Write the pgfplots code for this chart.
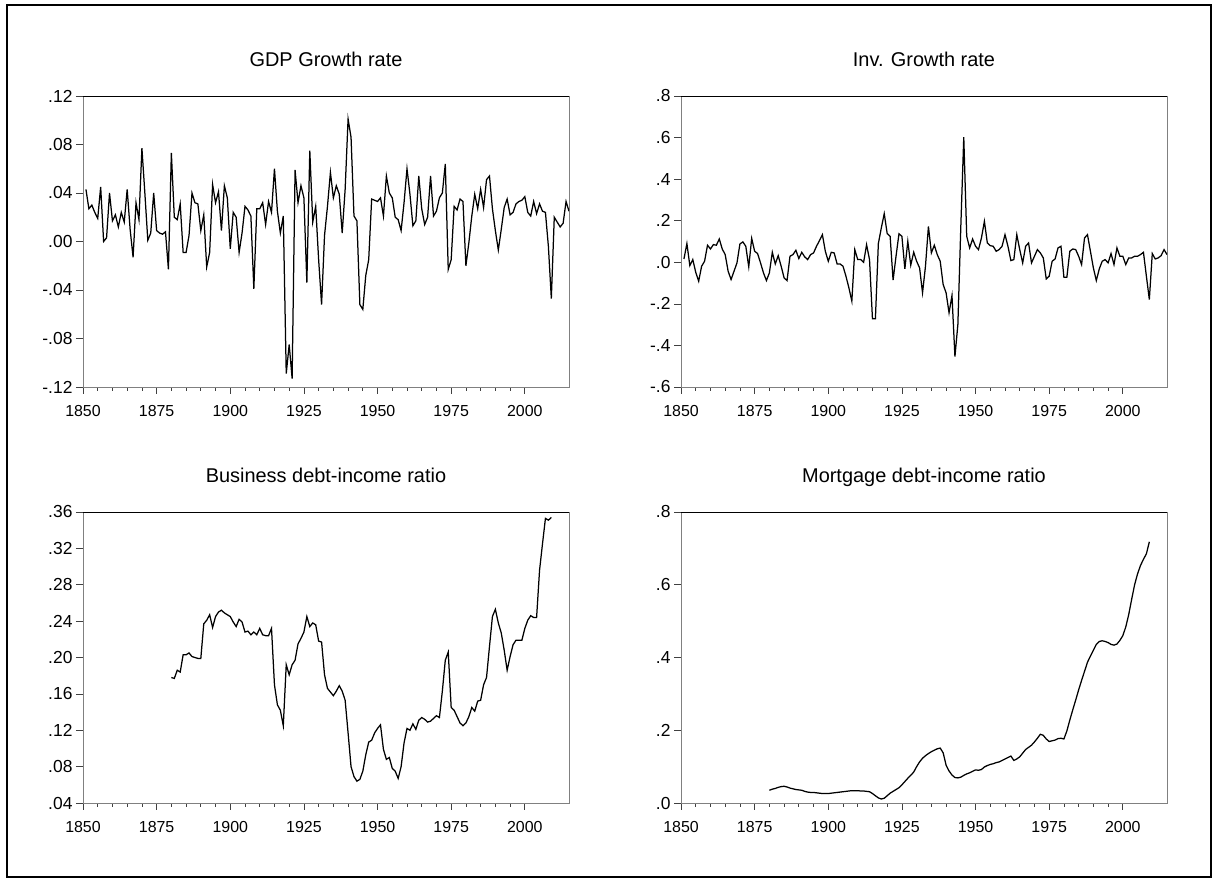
\documentclass[border=0pt]{standalone}
\usepackage{fontspec}
\setmainfont{Liberation Sans}
\usepackage{pgfplots}
\pgfplotsset{compat=1.18}
\usepackage{pgfplotstable}

\pgfplotstableread{
year v
1851 0.043
1852 0.027
1853 0.030
1854 0.024
1855 0.019
1856 0.045
1857 0.000
1858 0.003
1859 0.040
1860 0.017
1861 0.022
1862 0.012
1863 0.024
1864 0.016
1865 0.043
1866 0.010
1867 -0.013
1868 0.032
1869 0.018
1870 0.077
1871 0.040
1872 0.001
1873 0.007
1874 0.040
1875 0.009
1876 0.007
1877 0.006
1878 0.008
1879 -0.023
1880 0.073
1881 0.020
1882 0.018
1883 0.031
1884 -0.009
1885 -0.009
1886 0.005
1887 0.040
1888 0.032
1889 0.031
1890 0.009
1891 0.022
1892 -0.021
1893 -0.009
1894 0.047
1895 0.032
1896 0.041
1897 0.009
1898 0.046
1899 0.036
1900 -0.006
1901 0.024
1902 0.020
1903 -0.009
1904 0.007
1905 0.029
1906 0.026
1907 0.021
1908 -0.039
1909 0.027
1910 0.027
1911 0.032
1912 0.014
1913 0.033
1914 0.024
1915 0.060
1916 0.025
1917 0.007
1918 0.021
1919 -0.109
1920 -0.085
1921 -0.113
1922 0.059
1923 0.032
1924 0.046
1925 0.036
1926 -0.034
1927 0.075
1928 0.016
1929 0.029
1930 -0.015
1931 -0.052
1932 0.005
1933 0.029
1934 0.057
1935 0.036
1936 0.046
1937 0.039
1938 0.007
1939 0.043
1940 0.101
1941 0.086
1942 0.021
1943 0.017
1944 -0.052
1945 -0.056
1946 -0.028
1947 -0.015
1948 0.035
1949 0.034
1950 0.033
1951 0.036
1952 0.021
1953 0.054
1954 0.040
1955 0.036
1956 0.020
1957 0.018
1958 0.009
1959 0.032
1960 0.060
1961 0.039
1962 0.013
1963 0.017
1964 0.054
1965 0.027
1966 0.014
1967 0.020
1968 0.054
1969 0.021
1970 0.025
1971 0.036
1972 0.040
1973 0.064
1974 -0.023
1975 -0.015
1976 0.029
1977 0.026
1978 0.035
1979 0.033
1980 -0.020
1981 -0.001
1982 0.021
1983 0.039
1984 0.027
1985 0.043
1986 0.028
1987 0.051
1988 0.054
1989 0.027
1990 0.009
1991 -0.007
1992 0.010
1993 0.028
1994 0.035
1995 0.022
1996 0.024
1997 0.031
1998 0.033
1999 0.034
2000 0.037
2001 0.024
2002 0.021
2003 0.033
2004 0.023
2005 0.031
2006 0.025
2007 0.024
2008 -0.004
2009 -0.047
2010 0.020
2011 0.016
2012 0.012
2013 0.015
2014 0.033
2015 0.025
}\gdp

\pgfplotstableread{
year v
1851 0.016
1852 0.090
1853 -0.016
1854 0.013
1855 -0.048
1856 -0.091
1857 -0.019
1858 0.005
1859 0.082
1860 0.064
1861 0.085
1862 0.082
1863 0.112
1864 0.064
1865 0.037
1866 -0.043
1867 -0.083
1868 -0.043
1869 -0.003
1870 0.088
1871 0.098
1872 0.077
1873 -0.022
1874 0.115
1875 0.053
1876 0.042
1877 -0.003
1878 -0.051
1879 -0.088
1880 -0.051
1881 0.048
1882 -0.008
1883 0.032
1884 -0.019
1885 -0.075
1886 -0.088
1887 0.029
1888 0.037
1889 0.058
1890 0.018
1891 0.048
1892 0.026
1893 0.013
1894 0.037
1895 0.045
1896 0.077
1897 0.104
1898 0.133
1899 0.053
1900 0.005
1901 0.048
1902 0.045
1903 -0.008
1904 -0.008
1905 -0.019
1906 -0.067
1907 -0.123
1908 -0.187
1909 0.061
1910 0.013
1911 0.013
1912 0.000
1913 0.085
1914 0.013
1915 -0.272
1916 -0.272
1917 0.090
1918 0.165
1919 0.234
1920 0.138
1921 0.125
1922 -0.086
1923 0.029
1924 0.137
1925 0.125
1926 -0.032
1927 0.101
1928 -0.014
1929 0.048
1930 0.005
1931 -0.027
1932 -0.147
1933 -0.019
1934 0.173
1935 0.045
1936 0.082
1937 0.037
1938 0.005
1939 -0.107
1940 -0.147
1941 -0.243
1942 -0.160
1943 -0.454
1944 -0.299
1945 0.173
1946 0.602
1947 0.125
1948 0.069
1949 0.112
1950 0.077
1951 0.061
1952 0.117
1953 0.197
1954 0.093
1955 0.080
1956 0.077
1957 0.053
1958 0.061
1959 0.077
1960 0.133
1961 0.077
1962 0.008
1963 0.013
1964 0.133
1965 0.061
1966 -0.003
1967 0.077
1968 0.093
1969 -0.003
1970 0.029
1971 0.061
1972 0.045
1973 0.021
1974 -0.080
1975 -0.067
1976 0.005
1977 0.016
1978 0.069
1979 0.077
1980 -0.072
1981 -0.072
1982 0.053
1983 0.064
1984 0.061
1985 0.029
1986 -0.011
1987 0.117
1988 0.133
1989 0.053
1990 -0.027
1991 -0.088
1992 -0.032
1993 0.005
1994 0.013
1995 -0.003
1996 0.042
1997 -0.011
1998 0.069
1999 0.029
2000 0.029
2001 -0.011
2002 0.021
2003 0.021
2004 0.029
2005 0.029
2006 0.037
2007 0.048
2008 -0.067
2009 -0.179
2010 0.042
2011 0.016
2012 0.021
2013 0.032
2014 0.061
2015 0.037
}\inv

\pgfplotstableread{
year v
1880 0.178
1881 0.177
1882 0.186
1883 0.184
1884 0.203
1885 0.203
1886 0.205
1887 0.201
1888 0.200
1889 0.199
1890 0.199
1891 0.237
1892 0.241
1893 0.247
1894 0.233
1895 0.245
1896 0.250
1897 0.252
1898 0.249
1899 0.247
1900 0.245
1901 0.239
1902 0.234
1903 0.242
1904 0.239
1905 0.228
1906 0.229
1907 0.225
1908 0.228
1909 0.225
1910 0.232
1911 0.225
1912 0.224
1913 0.224
1914 0.232
1915 0.170
1916 0.148
1917 0.142
1918 0.125
1919 0.192
1920 0.181
1921 0.192
1922 0.197
1923 0.215
1924 0.221
1925 0.228
1926 0.245
1927 0.234
1928 0.238
1929 0.236
1930 0.218
1931 0.217
1932 0.181
1933 0.166
1934 0.162
1935 0.158
1936 0.163
1937 0.169
1938 0.163
1939 0.153
1940 0.117
1941 0.080
1942 0.069
1943 0.064
1944 0.066
1945 0.075
1946 0.093
1947 0.107
1948 0.109
1949 0.117
1950 0.122
1951 0.126
1952 0.099
1953 0.088
1954 0.090
1955 0.078
1956 0.075
1957 0.067
1958 0.080
1959 0.106
1960 0.122
1961 0.120
1962 0.127
1963 0.121
1964 0.131
1965 0.134
1966 0.132
1967 0.129
1968 0.130
1969 0.133
1970 0.136
1971 0.134
1972 0.163
1973 0.197
1974 0.206
1975 0.145
1976 0.142
1977 0.135
1978 0.128
1979 0.125
1980 0.128
1981 0.135
1982 0.145
1983 0.141
1984 0.152
1985 0.153
1986 0.170
1987 0.178
1988 0.212
1989 0.245
1990 0.253
1991 0.238
1992 0.227
1993 0.208
1994 0.186
1995 0.201
1996 0.214
1997 0.219
1998 0.219
1999 0.219
2000 0.232
2001 0.241
2002 0.246
2003 0.244
2004 0.244
2005 0.296
2006 0.325
2007 0.353
2008 0.351
2009 0.354
}\bus

\pgfplotstableread{
year v
1880 0.035
1881 0.038
1882 0.040
1883 0.043
1884 0.045
1885 0.046
1886 0.044
1887 0.041
1888 0.039
1889 0.037
1890 0.036
1891 0.035
1892 0.032
1893 0.030
1894 0.029
1895 0.029
1896 0.028
1897 0.027
1898 0.026
1899 0.026
1900 0.026
1901 0.027
1902 0.028
1903 0.029
1904 0.030
1905 0.031
1906 0.032
1907 0.033
1908 0.034
1909 0.034
1910 0.034
1911 0.033
1912 0.033
1913 0.032
1914 0.031
1915 0.026
1916 0.020
1917 0.014
1918 0.011
1919 0.013
1920 0.020
1921 0.027
1922 0.032
1923 0.037
1924 0.042
1925 0.050
1926 0.059
1927 0.068
1928 0.076
1929 0.085
1930 0.100
1931 0.113
1932 0.123
1933 0.130
1934 0.136
1935 0.141
1936 0.145
1937 0.149
1938 0.151
1939 0.138
1940 0.104
1941 0.088
1942 0.077
1943 0.070
1944 0.069
1945 0.071
1946 0.076
1947 0.080
1948 0.083
1949 0.087
1950 0.091
1951 0.090
1952 0.092
1953 0.099
1954 0.103
1955 0.106
1956 0.108
1957 0.111
1958 0.113
1959 0.117
1960 0.121
1961 0.125
1962 0.129
1963 0.117
1964 0.121
1965 0.127
1966 0.137
1967 0.147
1968 0.153
1969 0.159
1970 0.168
1971 0.178
1972 0.189
1973 0.186
1974 0.176
1975 0.169
1976 0.171
1977 0.173
1978 0.177
1979 0.178
1980 0.176
1981 0.198
1982 0.228
1983 0.256
1984 0.283
1985 0.311
1986 0.337
1987 0.362
1988 0.387
1989 0.404
1990 0.420
1991 0.436
1992 0.444
1993 0.446
1994 0.444
1995 0.441
1996 0.436
1997 0.434
1998 0.437
1999 0.447
2000 0.460
2001 0.484
2002 0.518
2003 0.560
2004 0.600
2005 0.630
2006 0.653
2007 0.670
2008 0.685
2009 0.718
}\mort

\pgfplotsset{
  panel/.style={
    scale only axis, width=486bp, height=291bp,
    anchor=south west,
    xmin=1850, xmax=2015,
    xtick={1850,1875,1900,1925,1950,1975,2000},
    xticklabels={1850,1875,1900,1925,1950,1975,2000},
    minor x tick num=4,
    tick align=outside, tick pos=left,
    major tick length=7bp, minor tick length=4bp,
    axis line style={draw=black!50, line width=0.8bp},
    tick style={black!75, line width=0.7bp},
    xticklabel style={font=\fontsize{16}{18}\selectfont, yshift=-8bp},
    yticklabel style={font=\fontsize{17.5}{19}\selectfont},
    title style={at={(0.5,1)}, anchor=base, yshift=23.5bp, font=\fontsize{20}{22}\selectfont},
  },
  ser/.style={black, line width=1.25bp, no marks},
}

\begin{document}
\begin{tikzpicture}
\useasboundingbox (0,0) rectangle (1217bp,879bp);
\draw[line width=1.5bp] (7bp,2bp) rectangle (1211bp,874bp);

\begin{axis}[panel, at={(83bp,492bp)}, title={GDP Growth rate},
  ymin=-0.12, ymax=0.12,
  ytick={-0.12,-0.08,-0.04,0,0.04,0.08,0.12},
  yticklabels={-.12,-.08,-.04,.00,.04,.08,.12}]
\addplot[ser] table[x=year,y=v] {\gdp};
\draw[black, line width=0.9bp] (rel axis cs:0,1) -- (rel axis cs:1,1);
\end{axis}

\begin{axis}[panel, at={(681bp,492bp)}, title={Inv. Growth rate},
  ymin=-0.6, ymax=0.8,
  ytick={-0.6,-0.4,-0.2,0,0.2,0.4,0.6,0.8},
  yticklabels={-.6,-.4,-.2,.0,.2,.4,.6,.8}]
\addplot[ser] table[x=year,y=v] {\inv};
\draw[black, line width=0.9bp] (rel axis cs:0,1) -- (rel axis cs:1,1);
\end{axis}

\begin{axis}[panel, at={(83bp,76bp)}, title={Business debt-income ratio},
  ymin=0.04, ymax=0.36,
  ytick={0.04,0.08,0.12,0.16,0.20,0.24,0.28,0.32,0.36},
  yticklabels={.04,.08,.12,.16,.20,.24,.28,.32,.36}]
\addplot[ser] table[x=year,y=v] {\bus};
\draw[black, line width=0.9bp] (rel axis cs:0,1) -- (rel axis cs:1,1);
\end{axis}

\begin{axis}[panel, at={(681bp,76bp)}, title={Mortgage debt-income ratio},
  ymin=0, ymax=0.8,
  ytick={0,0.2,0.4,0.6,0.8},
  yticklabels={.0,.2,.4,.6,.8}]
\addplot[ser] table[x=year,y=v] {\mort};
\draw[black, line width=0.9bp] (rel axis cs:0,1) -- (rel axis cs:1,1);
\end{axis}
\end{tikzpicture}
\end{document}
